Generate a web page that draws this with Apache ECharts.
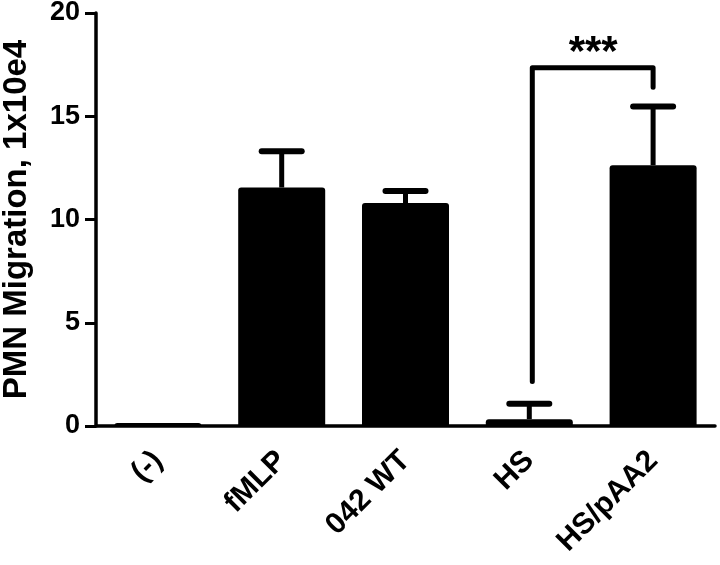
<!DOCTYPE html>
<html><head><meta charset="utf-8">
<script src="https://cdn.jsdelivr.net/npm/echarts@6/dist/echarts.min.js"></script>
<style>html,body{margin:0;padding:0;background:#fff}#c{width:720px;height:565px}</style>
</head><body><div id="c"></div>
<script>
const categories = ['(-)', 'fMLP', '042 WT', 'HS', 'HS/pAA2'];
const means = [0.15, 11.55, 10.8, 0.33, 12.63];
const errUpper = [0.15, 13.3, 11.38, 1.08, 15.47];
const yTicks = [0, 5, 10, 15, 20];
const bracketIdx = [3, 4];
const bracketEnds = [2.15, 16.4];
const bracketTop = 17.35;
const bracketLabel = '***';
const bracketLabelY = 18.05;

const chart = echarts.init(document.getElementById('c'));
const FONT = 'Liberation Sans';
chart.setOption({
  animation: false,
  grid: {left: 96, top: 13, width: 619, height: 413, containLabel: false, outerBoundsMode: 'none'},
  xAxis: {
    type: 'category', data: categories,
    axisLine: {lineStyle: {color: '#000', width: 3.5}},
    axisTick: {show: false},
    axisLabel: {rotate: 45, margin: 30, color: '#000', fontFamily: FONT, fontWeight: 'bold', fontSize: 30, interval: 0}
  },
  yAxis: {
    type: 'value', min: 0, max: 20, interval: 5,
    name: 'PMN Migration, 1x10e4', nameLocation: 'middle', nameGap: 63, nameRotate: 90,
    nameTextStyle: {color: '#000', fontFamily: FONT, fontWeight: 'bold', fontSize: 33},
    axisLine: {show: true, lineStyle: {color: '#000', width: 3.5}},
    axisTick: {show: true, length: 11, lineStyle: {color: '#000', width: 3}},
    splitLine: {show: false},
    axisLabel: {color: '#000', fontFamily: FONT, fontWeight: 'bold', fontSize: 27, margin: 16,
      formatter: v => yTicks.includes(v) ? String(v) : ''}
  },
  series: [
    {
      type: 'bar', data: means, barWidth: 87,
      itemStyle: {color: '#000', borderRadius: [3, 3, 0, 0]}
    },
    {
      type: 'custom',
      data: categories.map((c, i) => [i, means[i], errUpper[i]]),
      renderItem: (params, api) => {
        const i = api.value(0);
        const base = api.coord([i, api.value(1)]);
        const top = api.coord([i, api.value(2)]);
        if (base[1] - top[1] < 2) return null;
        return {type: 'group', children: [
          {type: 'line', shape: {x1: base[0], y1: base[1], x2: top[0], y2: top[1]}, style: {stroke: '#000', lineWidth: 5}},
          {type: 'line', shape: {x1: top[0] - 20, y1: top[1], x2: top[0] + 20, y2: top[1]}, style: {stroke: '#000', lineWidth: 6, lineCap: 'round'}}
        ]};
      },
      z: 5
    },
    {
      type: 'custom',
      data: [[bracketIdx[0], bracketEnds[0], bracketIdx[1], bracketEnds[1], bracketTop, bracketLabelY]],
      renderItem: (params, api) => {
        const a = api.coord([api.value(0), api.value(1)]);
        const b = api.coord([api.value(2), api.value(3)]);
        const t = api.coord([api.value(0), api.value(4)]);
        const l = api.coord([api.value(0), api.value(5)]);
        const mx = (a[0] + b[0]) / 2 + 2;
        return {type: 'group', children: [
          {type: 'polyline', shape: {points: [[a[0] + 3, a[1]], [a[0] + 3, t[1]], [b[0], t[1]], [b[0], b[1]]]},
            style: {stroke: '#000', lineWidth: 5, fill: null, lineCap: 'round', lineJoin: 'round'}},
          {type: 'text', x: mx, y: l[1], style: {text: bracketLabel, fill: '#000', font: 'bold 42px ' + FONT, align: 'center', verticalAlign: 'middle'}}
        ]};
      },
      z: 6
    }
  ]
});
</script></body></html>
